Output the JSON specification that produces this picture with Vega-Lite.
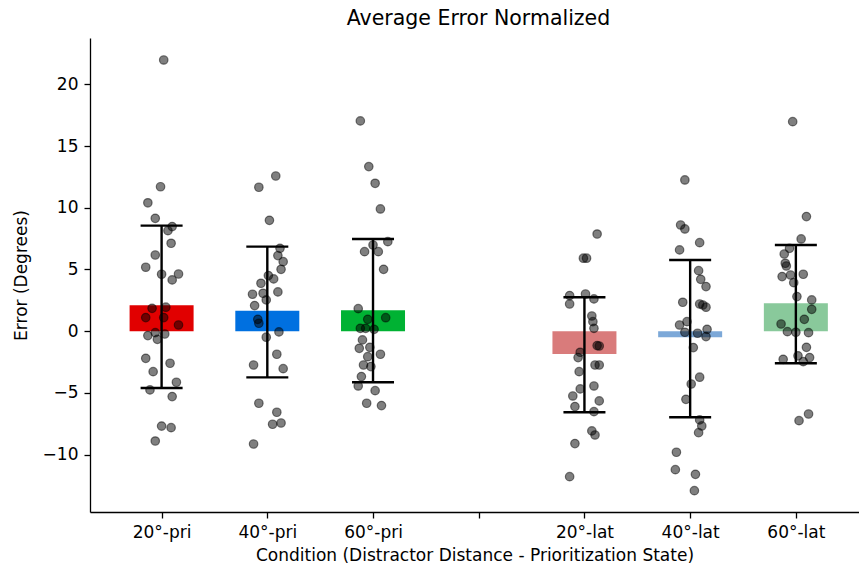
{
  "$schema": "https://vega.github.io/schema/vega-lite/v6.json",
  "width": 769,
  "height": 474,
  "autosize": "none",
  "padding": {"left": 90, "top": 38, "right": 0, "bottom": 59},
  "background": "white",
  "config": {
    "view": {"stroke": null},
    "font": "DejaVu Sans",
    "axis": {
      "labelFont": "DejaVu Sans", "titleFont": "DejaVu Sans",
      "labelFontSize": 17, "titleFontSize": 17, "titleFontWeight": "normal",
      "labelColor": "#000", "titleColor": "#000", "tickColor": "#000", "domainColor": "#000",
      "tickSize": 6, "tickWidth": 1.3, "domainWidth": 1.3, "grid": false,
      "labelPadding": 6, "titlePadding": 7, "labelFlush": false, "labelOverlap": false
    }
  },
  "title": {"text": "Average Error Normalized", "font": "DejaVu Sans", "fontSize": 20.5, "fontWeight": "normal", "color": "#000", "offset": 9, "dx": 4},
  "datasets": {
    "summary": [
      {"pos": 0, "c": "20°-pri", "mean": 2.1, "lo": -4.6, "hi": 8.55},
      {"pos": 1, "c": "40°-pri", "mean": 1.66, "lo": -3.74, "hi": 6.85},
      {"pos": 2, "c": "60°-pri", "mean": 1.69, "lo": -4.14, "hi": 7.47},
      {"pos": 4, "c": "20°-lat", "mean": -1.85, "lo": -6.57, "hi": 2.75},
      {"pos": 5, "c": "40°-lat", "mean": -0.5, "lo": -6.98, "hi": 5.77},
      {"pos": 6, "c": "60°-lat", "mean": 2.26, "lo": -2.6, "hi": 6.98}
    ],
    "points": [
      {"x": 0.02, "y": 21.97}, {"x": -0.01, "y": 11.7}, {"x": -0.13, "y": 10.4}, {"x": -0.06, "y": 9.14}, {"x": 0.10, "y": 8.47},
      {"x": 0.06, "y": 8.14}, {"x": 0.09, "y": 7.12}, {"x": -0.06, "y": 6.17}, {"x": -0.15, "y": 5.18}, {"x": 0.0, "y": 4.61},
      {"x": 0.16, "y": 4.63}, {"x": 0.10, "y": 4.15}, {"x": -0.09, "y": 1.85}, {"x": 0.04, "y": 1.94}, {"x": -0.15, "y": 1.10},
      {"x": 0.02, "y": 1.10}, {"x": 0.16, "y": 0.50}, {"x": -0.13, "y": -0.36}, {"x": -0.06, "y": -0.12}, {"x": -0.04, "y": -0.66},
      {"x": 0.03, "y": -0.23}, {"x": -0.15, "y": -2.20}, {"x": 0.08, "y": -2.60}, {"x": -0.08, "y": -3.28}, {"x": 0.14, "y": -4.14},
      {"x": -0.11, "y": -4.76}, {"x": 0.10, "y": -5.30}, {"x": 0.0, "y": -7.69}, {"x": 0.09, "y": -7.82}, {"x": -0.06, "y": -8.90},

      {"x": 1.08, "y": 12.57}, {"x": 0.92, "y": 11.66}, {"x": 1.02, "y": 8.98}, {"x": 1.12, "y": 6.71}, {"x": 1.10, "y": 6.12},
      {"x": 1.15, "y": 5.63}, {"x": 1.13, "y": 5.01}, {"x": 1.01, "y": 4.50}, {"x": 1.06, "y": 4.23}, {"x": 0.94, "y": 3.88},
      {"x": 0.86, "y": 2.99}, {"x": 0.96, "y": 3.07}, {"x": 1.10, "y": 3.18}, {"x": 0.99, "y": 2.53}, {"x": 0.88, "y": 2.07},
      {"x": 0.91, "y": 0.96}, {"x": 0.92, "y": 0.64}, {"x": 1.11, "y": -0.06}, {"x": 0.99, "y": -0.49}, {"x": 1.09, "y": -1.87},
      {"x": 0.87, "y": -2.74}, {"x": 1.15, "y": -3.04}, {"x": 0.92, "y": -5.84}, {"x": 1.09, "y": -6.57}, {"x": 1.05, "y": -7.54},
      {"x": 1.13, "y": -7.44}, {"x": 0.87, "y": -9.14},

      {"x": 1.88, "y": 17.03}, {"x": 1.96, "y": 13.33}, {"x": 2.02, "y": 11.98}, {"x": 2.07, "y": 9.90}, {"x": 2.14, "y": 7.25},
      {"x": 2.00, "y": 6.98}, {"x": 1.92, "y": 6.44}, {"x": 2.05, "y": 6.44}, {"x": 2.10, "y": 5.01}, {"x": 1.86, "y": 1.82},
      {"x": 1.95, "y": 0.96}, {"x": 2.12, "y": 1.09}, {"x": 1.88, "y": 0.23}, {"x": 1.93, "y": 0.23}, {"x": 2.01, "y": 0.15},
      {"x": 1.90, "y": -0.71}, {"x": 1.87, "y": -1.39}, {"x": 1.97, "y": -1.31}, {"x": 2.07, "y": -1.87}, {"x": 1.95, "y": -2.07},
      {"x": 1.91, "y": -2.74}, {"x": 1.98, "y": -2.87}, {"x": 1.89, "y": -3.68}, {"x": 1.86, "y": -4.44}, {"x": 2.02, "y": -4.82},
      {"x": 1.94, "y": -5.84}, {"x": 2.08, "y": -6.03},

      {"x": 4.12, "y": 7.87}, {"x": 3.99, "y": 5.91}, {"x": 4.02, "y": 5.91}, {"x": 3.86, "y": 2.88}, {"x": 4.01, "y": 3.01},
      {"x": 4.09, "y": 2.61}, {"x": 3.86, "y": 2.20}, {"x": 4.07, "y": 1.23}, {"x": 4.08, "y": 0.77}, {"x": 4.09, "y": 0.23},
      {"x": 4.12, "y": -1.17}, {"x": 4.14, "y": -1.20}, {"x": 3.96, "y": -1.71}, {"x": 3.94, "y": -2.14}, {"x": 4.10, "y": -2.74},
      {"x": 4.14, "y": -2.74}, {"x": 3.95, "y": -3.28}, {"x": 4.09, "y": -4.44}, {"x": 3.96, "y": -4.68}, {"x": 3.89, "y": -5.25},
      {"x": 4.14, "y": -5.65}, {"x": 3.91, "y": -6.11}, {"x": 4.09, "y": -6.52}, {"x": 4.07, "y": -8.08}, {"x": 4.10, "y": -8.41},
      {"x": 3.91, "y": -9.11}, {"x": 3.86, "y": -11.79},

      {"x": 4.95, "y": 12.25}, {"x": 4.91, "y": 8.60}, {"x": 4.95, "y": 8.28}, {"x": 5.09, "y": 7.17}, {"x": 4.90, "y": 6.58},
      {"x": 5.08, "y": 4.90}, {"x": 5.10, "y": 4.20}, {"x": 5.15, "y": 3.61}, {"x": 4.93, "y": 2.34}, {"x": 5.09, "y": 2.20},
      {"x": 5.12, "y": 2.12}, {"x": 5.15, "y": 1.94}, {"x": 4.97, "y": 0.77}, {"x": 4.90, "y": 0.50}, {"x": 4.95, "y": -0.09},
      {"x": 5.16, "y": 0.15}, {"x": 5.07, "y": -0.17}, {"x": 5.15, "y": -0.44}, {"x": 5.03, "y": -1.33}, {"x": 5.09, "y": -3.73},
      {"x": 5.01, "y": -4.28}, {"x": 4.96, "y": -5.52}, {"x": 5.09, "y": -7.19}, {"x": 5.11, "y": -7.68}, {"x": 5.08, "y": -8.22},
      {"x": 4.87, "y": -9.81}, {"x": 4.86, "y": -11.22}, {"x": 5.05, "y": -11.6}, {"x": 5.04, "y": -12.92},

      {"x": 5.97, "y": 16.97}, {"x": 6.10, "y": 9.28}, {"x": 6.05, "y": 7.47}, {"x": 5.94, "y": 6.71}, {"x": 5.89, "y": 6.25},
      {"x": 5.90, "y": 5.50}, {"x": 5.91, "y": 5.28}, {"x": 5.87, "y": 4.42}, {"x": 5.95, "y": 4.55}, {"x": 6.07, "y": 4.61},
      {"x": 5.98, "y": 3.93}, {"x": 6.01, "y": 2.80}, {"x": 6.15, "y": 2.53}, {"x": 6.15, "y": 1.77}, {"x": 6.08, "y": 0.96},
      {"x": 5.86, "y": 0.58}, {"x": 5.92, "y": -0.04}, {"x": 6.00, "y": -0.09}, {"x": 6.12, "y": -0.12}, {"x": 6.10, "y": -1.31},
      {"x": 6.02, "y": -2.00}, {"x": 6.13, "y": -2.14}, {"x": 6.07, "y": -2.47}, {"x": 5.88, "y": -2.28}, {"x": 6.03, "y": -7.25},
      {"x": 6.12, "y": -6.71}
    ]
  },
  "layer": [
    {
      "data": {"name": "summary"},
      "mark": {"type": "bar", "size": 64, "orient": "vertical"},
      "encoding": {
        "x": {
          "field": "pos", "type": "quantitative",
          "scale": {"domain": [-0.63, 6.55], "nice": false, "zero": false},
          "axis": {
            "values": [0, 1, 2, 3, 4, 5, 6],
            "labelExpr": "['20°-pri','40°-pri','60°-pri','','20°-lat','40°-lat','60°-lat'][datum.value]",
            "title": "Condition (Distractor Distance - Prioritization State)"
          }
        },
        "y": {
          "field": "mean", "type": "quantitative", "stack": null,
          "scale": {"domain": [-14.65, 23.75], "nice": false, "zero": false},
          "axis": {"values": [-10, -5, 0, 5, 10, 15, 20], "title": "Error (Degrees)", "titlePadding": 12}
        },
        "color": {
          "field": "c", "type": "nominal", "legend": null,
          "scale": {
            "domain": ["20°-pri", "40°-pri", "60°-pri", "20°-lat", "40°-lat", "60°-lat"],
            "range": ["#e10000", "#0070e0", "#00b233", "#d97b7b", "#7ca8d8", "#89c99b"]
          }
        }
      }
    },
    {
      "data": {"name": "summary"},
      "mark": {"type": "rule", "color": "#000", "strokeWidth": 2.4},
      "encoding": {
        "x": {"field": "pos", "type": "quantitative"},
        "y": {"field": "lo", "type": "quantitative"},
        "y2": {"field": "hi"}
      }
    },
    {
      "data": {"name": "summary"},
      "mark": {"type": "tick", "orient": "horizontal", "color": "#000", "size": 42, "thickness": 2.4, "opacity": 1},
      "encoding": {
        "x": {"field": "pos", "type": "quantitative"},
        "y": {"field": "hi", "type": "quantitative"}
      }
    },
    {
      "data": {"name": "summary"},
      "mark": {"type": "tick", "orient": "horizontal", "color": "#000", "size": 42, "thickness": 2.4, "opacity": 1},
      "encoding": {
        "x": {"field": "pos", "type": "quantitative"},
        "y": {"field": "lo", "type": "quantitative"}
      }
    },
    {
      "data": {"name": "points"},
      "mark": {"type": "point", "shape": "circle", "filled": true, "fill": "#000", "fillOpacity": 0.5, "stroke": "#000", "strokeOpacity": 0.5, "strokeWidth": 1.2, "size": 72},
      "encoding": {
        "x": {"field": "x", "type": "quantitative"},
        "y": {"field": "y", "type": "quantitative"}
      }
    },
    {
      "mark": {"type": "rule", "color": "#000", "strokeWidth": 1.3},
      "encoding": {"y": {"datum": 23.75}}
    }
  ]
}
